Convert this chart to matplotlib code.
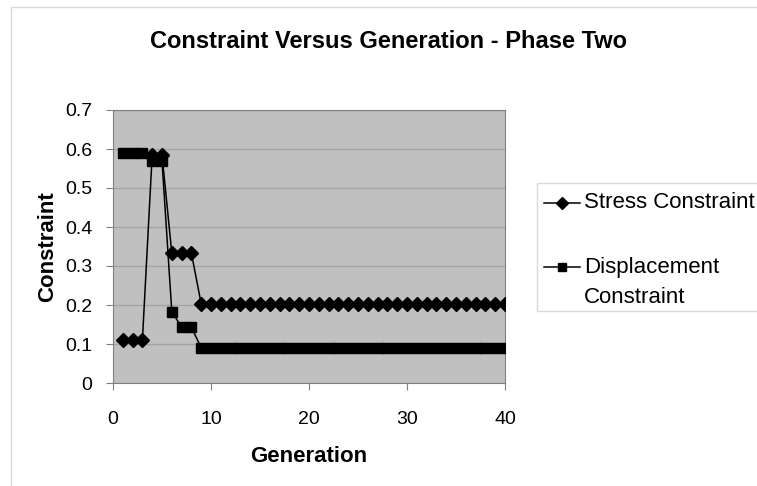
import matplotlib.pyplot as plt
from matplotlib.lines import Line2D
from matplotlib.patches import Rectangle

plt.rcParams["font.family"] = ["Liberation Sans", "DejaVu Sans"]

generation = list(range(1, 41))
stress = [0.11, 0.11, 0.11, 0.585, 0.585, 0.333, 0.333, 0.333,
          0.203, 0.203, 0.203, 0.203, 0.203, 0.203, 0.203, 0.203,
          0.203, 0.203, 0.203, 0.203, 0.203, 0.203, 0.203, 0.203,
          0.203, 0.203, 0.203, 0.203, 0.203, 0.203, 0.203, 0.203,
          0.203, 0.203, 0.203, 0.203, 0.203, 0.203, 0.203, 0.203]
displacement = [0.59, 0.59, 0.59, 0.57, 0.57, 0.183, 0.143, 0.143,
                0.09, 0.09, 0.09, 0.09, 0.09, 0.09, 0.09, 0.09,
                0.09, 0.09, 0.09, 0.09, 0.09, 0.09, 0.09, 0.09,
                0.09, 0.09, 0.09, 0.09, 0.09, 0.09, 0.09, 0.09,
                0.09, 0.09, 0.09, 0.09, 0.09, 0.09, 0.09, 0.09]
x_ticks = [0, 10, 20, 30, 40]
y_ticks = [0, 0.1, 0.2, 0.3, 0.4, 0.5, 0.6, 0.7]
y_labels = ["0", "0.1", "0.2", "0.3", "0.4", "0.5", "0.6", "0.7"]

W, H = 757, 486
fig = plt.figure(figsize=(W / 100, H / 100), dpi=100)

# light outer chart border (top and left visible)
fig.add_artist(Rectangle((11 / W, -0.1), 1.2, 1 - 7 / H + 0.1, transform=fig.transFigure,
                         facecolor="none", edgecolor="#d9d9d9", linewidth=1))

ax = fig.add_axes([113 / W, 1 - 383 / H, (505 - 113) / W, (383 - 110) / H])
ax.set_facecolor("#c0c0c0")
ax.plot(generation, stress, color="black", linewidth=1.1, marker="D", markersize=7.5,
        zorder=3)
ax.plot(generation, displacement, color="black", linewidth=1.1, marker="s",
        markersize=7, zorder=3)

ax.set_xlim(0, 40)
ax.set_ylim(0, 0.7)
ax.set_xticks(x_ticks)
ax.set_yticks(y_ticks)
ax.set_yticklabels(y_labels)
ax.tick_params(direction="out", length=5, color="#808080", labelsize=14)
ax.tick_params(axis="x", pad=15)
ax.tick_params(axis="y", pad=10)
ax.grid(axis="y", color="#a4a4a4", linewidth=1)
ax.set_axisbelow(True)
for sp in ax.spines.values():
    sp.set_color("#808080")

ax.set_xlabel("Generation", fontsize=16, fontweight="bold", labelpad=13)
ax.set_ylabel("Constraint", fontsize=16, fontweight="bold", labelpad=5)
fig.text(389 / W, 1 - 42 / H, "Constraint Versus Generation - Phase Two",
         ha="center", va="center", fontsize=17, fontweight="bold")

# legend box drawn by hand so it runs off the right edge like the original
fig.add_artist(Rectangle((537 / W, 1 - 311 / H), 0.5, (311 - 183) / H,
                         transform=fig.transFigure, facecolor="white",
                         edgecolor="#d9d9d9", linewidth=1))
for y, marker, ms in [(203, "D", 6), (267, "s", 5.5)]:
    fig.add_artist(Line2D([544 / W, 580 / W], [1 - y / H, 1 - y / H], color="black",
                          linewidth=1.1, transform=fig.transFigure))
    fig.add_artist(Line2D([562 / W], [1 - y / H], color="black", marker=marker,
                          markersize=ms, transform=fig.transFigure))
fig.text(584 / W, 1 - 203 / H, "Stress Constraint", fontsize=16, va="center")
fig.text(584 / W, 1 - 267 / H, "Displacement", fontsize=16, va="center")
fig.text(584 / W, 1 - 297 / H, "Constraint", fontsize=16, va="center")

fig.savefig("out.png", dpi=100)
